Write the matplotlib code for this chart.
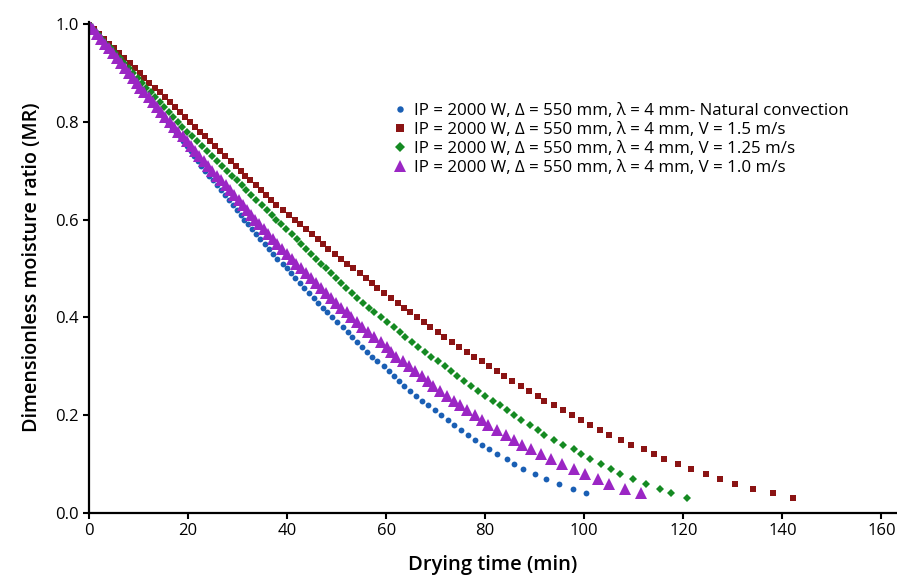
import matplotlib.pyplot as plt

plt.rcParams['font.family'] = ['Open Sans', 'DejaVu Sans']

# natural convection (blue)
mr_nat = [1.00, 0.99, 0.98, 0.97, 0.96, 0.95, 0.94, 0.93, 0.92, 0.91, 0.90, 0.89, 0.88, 0.87, 0.86, 0.85,
          0.84, 0.83, 0.82, 0.81, 0.80, 0.79, 0.78, 0.77, 0.76, 0.75, 0.74, 0.73, 0.72, 0.71, 0.70, 0.69,
          0.68, 0.67, 0.66, 0.65, 0.64, 0.63, 0.62, 0.61, 0.60, 0.59, 0.58, 0.57, 0.56, 0.55, 0.54, 0.53,
          0.52, 0.51, 0.50, 0.49, 0.48, 0.47, 0.46, 0.45, 0.44, 0.43, 0.42, 0.41, 0.40, 0.39, 0.38, 0.37,
          0.36, 0.35, 0.34, 0.33, 0.32, 0.31, 0.30, 0.29, 0.28, 0.27, 0.26, 0.25, 0.24, 0.23, 0.22, 0.21,
          0.20, 0.19, 0.18, 0.17, 0.16, 0.15, 0.14, 0.13, 0.12, 0.11, 0.10, 0.09, 0.08, 0.07, 0.06, 0.05, 0.04]
t_nat = [0.0, 0.8, 1.6, 2.4, 3.2, 4.0, 4.8, 5.6, 6.4, 7.2, 8.0, 8.8, 9.6, 10.4, 11.2, 12.0,
         12.8, 13.6, 14.4, 15.2, 16.0, 16.8, 17.5, 18.3, 19.0, 19.8, 20.5, 21.3, 22.0, 22.7, 23.5, 24.2,
         25.0, 25.8, 26.6, 27.4, 28.2, 29.0, 29.8, 30.6, 31.4, 32.2, 33.0, 33.8, 34.6, 35.5, 36.3, 37.2,
         38.0, 39.1, 39.9, 40.7, 41.6, 42.6, 43.5, 44.4, 45.4, 46.3, 47.2, 48.1, 49.1, 50.1, 51.2, 52.2,
         53.2, 54.2, 55.2, 56.1, 57.1, 58.2, 59.5, 60.5, 61.5, 62.6, 63.6, 64.8, 66.1, 67.2, 68.5, 69.8,
         71.1, 72.5, 73.6, 75.1, 76.5, 77.9, 79.3, 80.8, 82.4, 84.4, 85.9, 87.7, 90.1, 92.2, 94.8, 97.8, 100.4]

# V = 1.5 m/s (red)
mr_15 = [1.00, 0.99, 0.98, 0.97, 0.96, 0.95, 0.94, 0.93, 0.92, 0.91, 0.90, 0.89, 0.88, 0.87, 0.86, 0.85,
         0.84, 0.83, 0.82, 0.81, 0.80, 0.79, 0.78, 0.77, 0.76, 0.75, 0.74, 0.73, 0.72, 0.71, 0.70, 0.69,
         0.68, 0.67, 0.66, 0.65, 0.64, 0.63, 0.62, 0.61, 0.60, 0.59, 0.58, 0.57, 0.56, 0.55, 0.54, 0.53,
         0.52, 0.51, 0.50, 0.49, 0.48, 0.47, 0.46, 0.45, 0.44, 0.43, 0.42, 0.41, 0.40, 0.39, 0.38, 0.37,
         0.36, 0.35, 0.34, 0.33, 0.32, 0.31, 0.30, 0.29, 0.28, 0.27, 0.26, 0.25, 0.24, 0.23, 0.22, 0.21,
         0.20, 0.19, 0.18, 0.17, 0.16, 0.15, 0.14, 0.13, 0.12, 0.11, 0.10, 0.09, 0.08, 0.07, 0.06, 0.05,
         0.04, 0.03]
t_15 = [0.0, 1.0, 2.0, 3.1, 4.1, 5.1, 6.1, 7.1, 8.2, 9.2, 10.2, 11.2, 12.2, 13.3, 14.3, 15.3,
        16.3, 17.3, 18.4, 19.4, 20.4, 21.4, 22.4, 23.5, 24.5, 25.5, 26.5, 27.5, 28.6, 29.6, 30.6, 31.6,
        32.6, 33.7, 34.7, 35.7, 36.7, 37.8, 39.1, 40.3, 41.5, 42.7, 43.8, 45.0, 46.2, 47.2, 48.3, 49.6,
        50.8, 52.1, 53.4, 54.7, 56.0, 57.1, 58.2, 59.6, 60.9, 62.3, 63.6, 64.9, 66.3, 67.6, 68.9, 70.4,
        71.7, 73.2, 74.7, 76.4, 77.8, 79.3, 80.7, 82.3, 83.8, 85.5, 87.2, 88.8, 90.6, 91.9, 93.9, 95.8,
        97.5, 99.3, 101.2, 103.1, 105.0, 107.5, 109.4, 112.0, 114.1, 116.1, 118.9, 121.5, 124.6, 127.4, 130.5, 134.1,
        138.2, 142.1]

# V = 1.25 m/s (green)
mr_125 = list(mr_15)
t_125 = [0.0, 0.9, 1.8, 2.6, 3.5, 4.4, 5.3, 6.2, 7.1, 8.0, 8.9, 9.8, 10.7, 11.6, 12.5, 13.4,
         14.3, 15.2, 16.1, 17.0, 17.9, 18.8, 19.8, 20.8, 21.8, 22.8, 23.8, 24.8, 25.8, 26.8, 27.8, 28.8,
         29.8, 30.8, 31.8, 32.8, 33.8, 34.9, 35.9, 36.9, 37.8, 38.8, 39.8, 40.9, 42.0, 42.8, 43.8, 44.8,
         45.9, 46.9, 47.9, 48.8, 49.8, 50.9, 51.9, 53.1, 54.2, 55.4, 56.5, 57.6, 59.0, 60.2, 61.5, 62.7,
         63.8, 65.2, 66.5, 67.9, 69.1, 70.4, 71.8, 73.1, 74.4, 75.8, 77.1, 78.5, 80.0, 81.6, 82.9, 84.5,
         85.9, 87.3, 89.0, 90.6, 91.9, 93.9, 95.8, 97.9, 99.3, 101.2, 103.4, 105.3, 107.3, 109.9, 112.5, 115.2,
         117.6, 120.7]

# V = 1.0 m/s (purple)
mr_10 = list(mr_nat)
t_10 = [0.0, 0.8, 1.6, 2.4, 3.2, 4.0, 4.8, 5.6, 6.4, 7.2, 8.0, 8.8, 9.6, 10.4, 11.2, 12.1,
        12.9, 13.7, 14.6, 15.4, 16.3, 17.1, 18.0, 18.9, 19.7, 20.6, 21.4, 22.3, 23.2, 24.0, 24.9, 25.8,
        26.7, 27.6, 28.4, 29.3, 30.2, 31.0, 31.9, 32.7, 33.6, 34.4, 35.3, 36.2, 37.1, 38.0, 39.0, 39.9,
        40.9, 41.8, 42.8, 43.8, 44.8, 45.8, 46.8, 47.8, 48.8, 49.9, 50.9, 52.0, 53.0, 54.1, 55.2, 56.4,
        57.6, 59.0, 60.1, 61.0, 62.0, 63.4, 64.6, 65.8, 67.3, 68.4, 69.5, 70.9, 72.2, 73.6, 74.9, 76.4,
        77.9, 79.3, 80.5, 82.4, 84.2, 85.9, 87.4, 89.3, 91.3, 93.3, 95.6, 97.9, 100.1, 102.8, 105.0, 108.3, 111.5]

labels = ["IP = 2000 W, Δ = 550 mm, λ = 4 mm- Natural convection",
          "IP = 2000 W, Δ = 550 mm, λ = 4 mm, V = 1.5 m/s",
          "IP = 2000 W, Δ = 550 mm, λ = 4 mm, V = 1.25 m/s",
          "IP = 2000 W, Δ = 550 mm, λ = 4 mm, V = 1.0 m/s"]

fig = plt.figure(figsize=(8.97, 5.79), dpi=100)
ax = fig.add_axes([0.0992, 0.114, 0.9, 0.848])

ax.plot(t_nat, mr_nat, 'o', color="#1a5fb4", ms=4.2, mew=0, label=labels[0])
ax.plot(t_15, mr_15, 's', color="#8b1414", ms=4.6, mew=0, label=labels[1])
ax.plot(t_125, mr_125, 'D', color="#158a22", ms=4.2, mew=0, label=labels[2])
ax.plot(t_10, mr_10, '^', color="#9b26c4", ms=8, mew=0, label=labels[3])

ax.set_xlim(0, 163)
ax.set_ylim(0, 1.004)
ax.set_xticks(range(0, 161, 20))
ax.set_yticks([0.0, 0.2, 0.4, 0.6, 0.8, 1.0])
ax.set_yticklabels(["0.0", "0.2", "0.4", "0.6", "0.8", "1.0"])
for s in ["top", "right"]:
    ax.spines[s].set_visible(False)
for s in ["left", "bottom"]:
    ax.spines[s].set_linewidth(1.6)
ax.tick_params(direction="out", length=4, width=1.5, labelsize=12)

ax.set_xlabel("Drying time (min)", fontsize=14.5, fontweight="semibold", labelpad=11)
ax.set_ylabel("Dimensionless moisture ratio (MR)", fontsize=14.2, fontweight="semibold", labelpad=9)

fig.legend(loc="upper left", bbox_to_anchor=(0.418, 0.848), frameon=False, fontsize=12.2,
           handletextpad=0.2, labelspacing=0.18, handlelength=1.2, markerscale=1.1)

fig.savefig("out.png", dpi=100)
